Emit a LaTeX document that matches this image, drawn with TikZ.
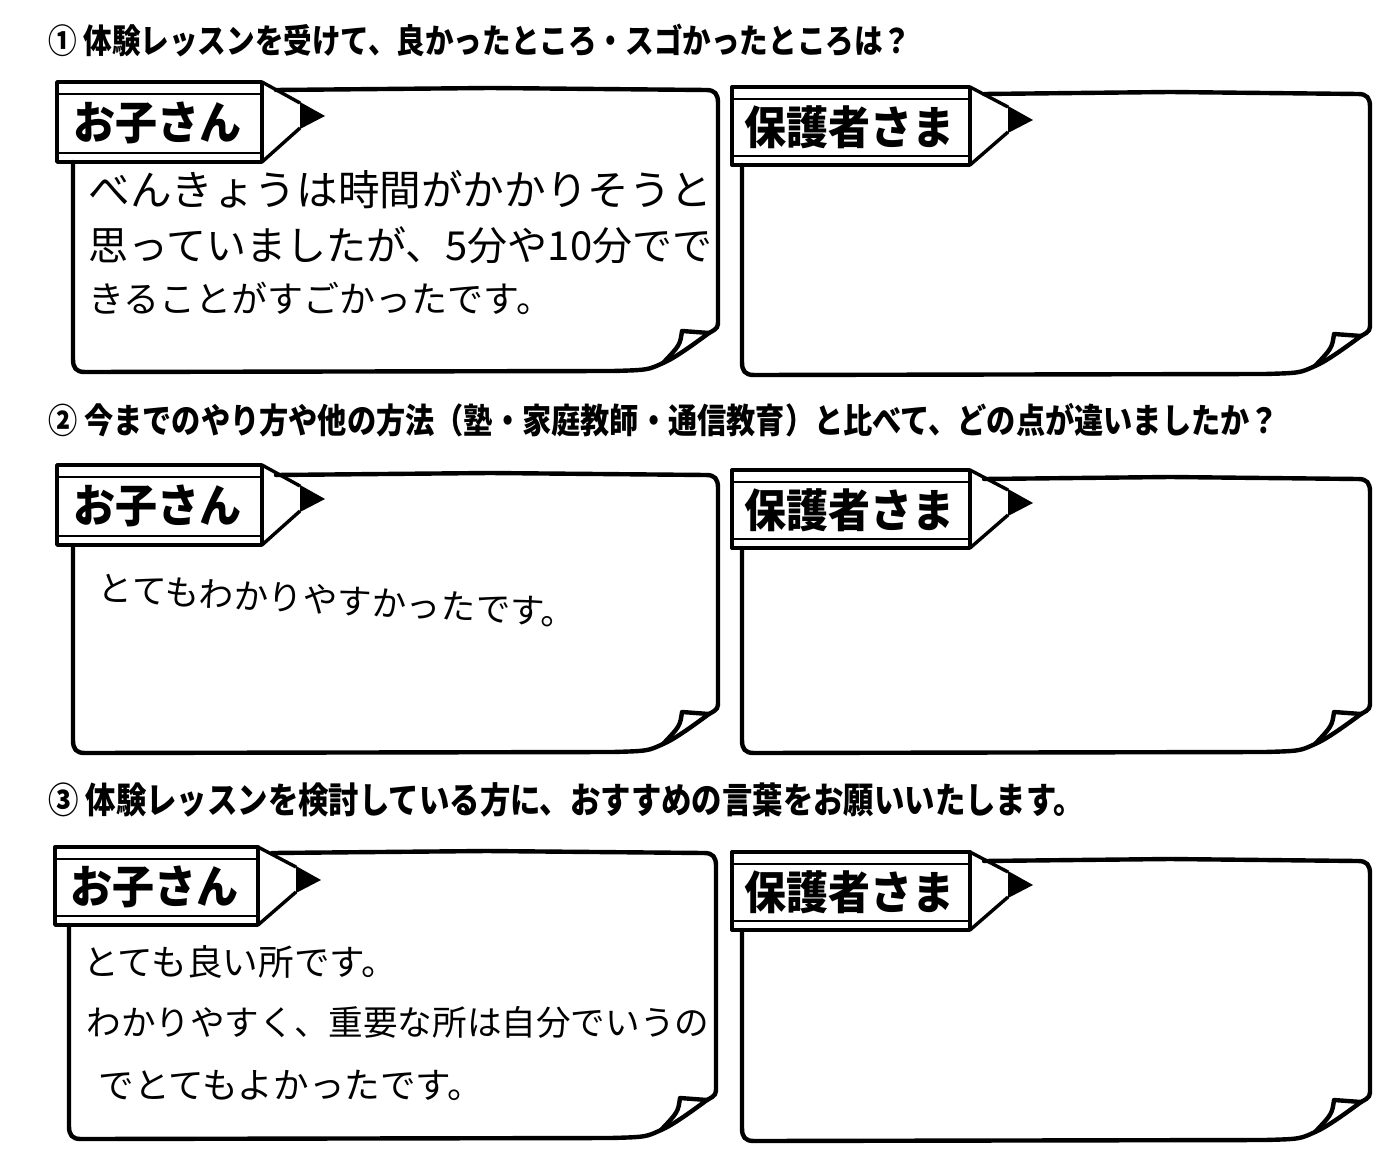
\documentclass[tikz,border=0pt]{standalone}
\usepackage{fontspec}
\usepackage{graphicx}
\setmainfont{Noto Sans CJK JP}
\newcounter{nc}
\tikzset{
  outline/.style={line width=2.2pt,line join=round,line cap=round},
  lblline/.style={line width=1.7pt,line join=round},
  stripe/.style={line width=0.9pt},
  lbltext/.style={inner sep=0pt,font=\bfseries\fontsize{21}{22}\selectfont},
  head/.style={anchor=west,inner sep=0pt},
  hand/.style={anchor=west,inner sep=0pt}
}
\newcommand\hd[1]{\scalebox{1}[1.18]{#1}}
\newcommand\pencilnote[9]{%
 \stepcounter{nc}%
 \draw[outline] ({#3+14},{#7+1}) -- ({(#3+#6)/2},{#7-1}) -- ({#6-12},{#7+1})
   .. controls ({#6-3},{#7+1}) and (#6,{#7+5}) .. (#6,{#7+14})
   -- (#6,{#8-52}) .. controls (#6,{#8-43}) .. ({#6-9},{#8-38})
   .. controls ({#6-28},{#8-24}) and ({#6-45},{#8-12}) .. ({#6-55},{#8-8})
   .. controls ({#6-70},{#8-1}) .. ({#6-105},#8)
   -- ({#5+12},{#8+1}) .. controls ({#5+3},{#8+1}) and (#5,{#8-3}) .. (#5,{#8-12})
   -- (#5,#4);
 \draw[outline] ({#6-9},{#8-38}) -- ({#6-36},{#8-40}) .. controls ({#6-38},{#8-26}) .. ({#6-55},{#8-8});
 \node[lbltext] (lbl\arabic{nc}) at ({(#1+#3)/2-2},{(#2+#4)/2+1}) {\scalebox{1}[1.08]{#9}};
 \draw[lblline] (#1,#2) rectangle (#3,#4);
 \draw[stripe] (#1,{#2+12}) -- (#3,{#2+12}) (#1,{#4-9}) -- (#3,{#4-9});
 \draw[lblline] (#3,#2) -- ({#3+38},{(#2+#4)/2-19}) (#3,#4) -- ({#3+38},{(#2+#4)/2+6});
 \fill ({#3+38},{(#2+#4)/2-20}) -- ({#3+63},{(#2+#4)/2-6}) -- ({#3+38},{(#2+#4)/2+7}) -- cycle;
}
\begin{document}
\begin{tikzpicture}[x=0.5pt,y=-0.5pt]
\useasboundingbox[fill=white] (0,0) rectangle (1400,1170);
% headings
\node[head,font=\bfseries\fontsize{14.3}{16}\selectfont] (h1) at (48,40) {\hd{① 体験レッスンを受けて、良かったところ・スゴかったところは？}};
\node[head,font=\bfseries\fontsize{14.6}{16}\selectfont] (h2) at (48,420) {\hd{② 今までのやり方や他の方法（塾・家庭教師・通信教育）と比べて、どの点が違いましたか？}};
\node[head,font=\bfseries\fontsize{15.2}{16}\selectfont] (h3) at (48,800) {\hd{③ 体験レッスンを検討している方に、おすすめの言葉をお願いいたします。}};
% notes
\pencilnote{57}{82}{262}{162}{73}{718}{89}{371}{お子さん}
\pencilnote{732}{87}{970}{165}{742}{1370}{93}{374}{保護者さま}
\pencilnote{57}{465}{262}{545}{73}{718}{474}{752}{お子さん}
\pencilnote{732}{470}{970}{548}{742}{1370}{478}{752}{保護者さま}
\pencilnote{55}{847}{258}{925}{69}{716}{852}{1138}{お子さん}
\pencilnote{732}{852}{970}{930}{742}{1370}{860}{1140}{保護者さま}
% handwritten answers
\node[hand,font=\fontsize{20.8}{22}\selectfont] (t1a) at (88,190) {べんきょうは時間がかかりそうと};
\node[hand,font=\fontsize{20}{22}\selectfont] (t1b) at (88,245) {思っていましたが、5分や10分でで};
\node[hand,font=\fontsize{18}{20}\selectfont] (t1c) at (88,298) {きることがすごかったです。};
\node[hand,font=\fontsize{17.3}{20}\selectfont,rotate=-3] (t2) at (98,588) {とてもわかりやすかったです。};
\node[hand,font=\fontsize{17.8}{20}\selectfont] (t3a) at (83,962) {とても良い所です。};
\node[hand,font=\fontsize{17.3}{20}\selectfont] (t3b) at (86,1022) {わかりやすく、重要な所は自分でいうの};
\node[hand,font=\fontsize{17.8}{20}\selectfont] (t3c) at (98,1085) {でとてもよかったです。};
\end{tikzpicture}
\end{document}
